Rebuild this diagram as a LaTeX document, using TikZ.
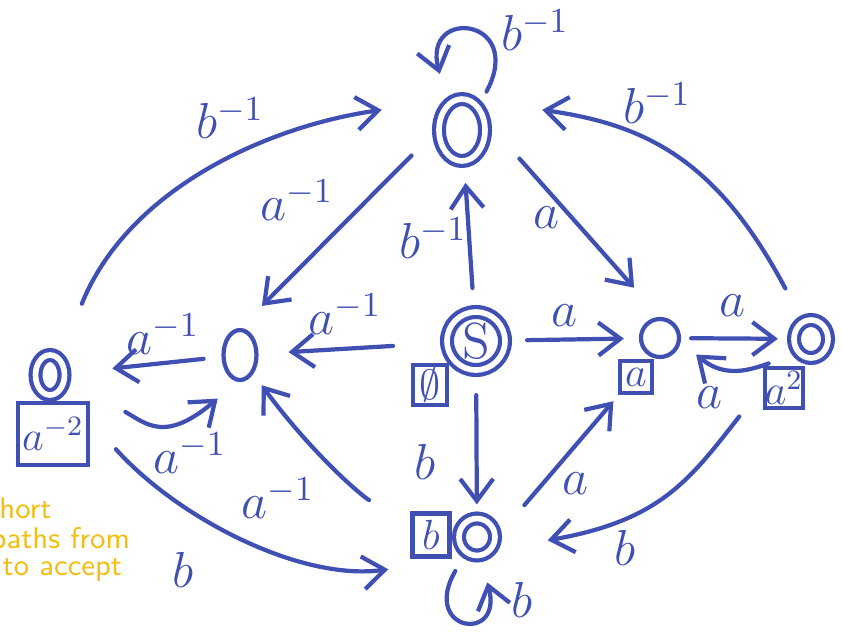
\documentclass[tikz,border=0pt]{standalone}
\usepackage{amsmath,amssymb}
\usepackage{tikz}
\usetikzlibrary{arrows.meta,shapes.geometric}
\definecolor{penblue}{RGB}{64,80,178}
\definecolor{penyellow}{RGB}{241,190,20}
\begin{document}
\begin{tikzpicture}[
  st/.style={draw=penblue, very thick, ellipse, inner sep=0pt},
  acc/.style={st, double=white, double distance=1.6pt},
  wbox/.style={draw=penblue, very thick, rectangle, text=penblue, inner sep=0pt, font=\large},
  tr/.style={draw=penblue, very thick, line cap=round, -{Straight Barb[length=2.2mm,width=3.3mm]}},
  lab/.style={text=penblue, font=\Large},
  note/.style={text=penyellow, inner sep=0pt, font=\sffamily\fontsize{8.5}{8.5}\selectfont, anchor=base west}]
  \useasboundingbox (0,0) rectangle (8.42,6.31);
  \clip (0,0) rectangle (8.42,6.31);
  \node[acc, minimum width=0.46cm, minimum height=0.62cm] (top) at (4.62,5.01) {};
  \node[st, minimum width=0.33cm, minimum height=0.50cm] (lm) at (2.40,2.76) {};
  \node[acc, minimum width=0.29cm, minimum height=0.40cm] (fl) at (0.50,2.56) {};
  \node[acc, circle, minimum size=0.58cm, text=penblue, font=\Large] (s) at (4.76,2.90) {S};
  \node[st, circle, minimum size=0.38cm] (rm) at (6.60,2.93) {};
  \node[acc, minimum width=0.34cm, minimum height=0.38cm] (fr) at (8.11,2.92) {};
  \node[acc, minimum width=0.36cm, minimum height=0.37cm] (bot) at (4.77,0.94) {};
  \node[wbox, minimum width=0.34cm, minimum height=0.40cm] (tagS) at (4.30,2.46) {$\emptyset$};
  \node[wbox, minimum size=0.32cm] (tagRm) at (6.36,2.54) {$a$};
  \node[wbox, minimum width=0.38cm, minimum height=0.40cm] (tagFr) at (7.84,2.43) {$a^2$};
  \node[wbox, minimum width=0.70cm, minimum height=0.62cm] (tagFl) at (0.53,1.97) {$a^{-2}$};
  \node[wbox, minimum width=0.37cm, minimum height=0.43cm] (tagBot) at (4.31,0.96) {$b$};
  \draw[tr, shorten <=0.22cm, shorten >=0.2cm] (s) -- (top);
  \draw[tr, shorten <=0.52cm, shorten >=0.30cm] (s) -- (lm);
  \draw[tr, shorten <=0.20cm, shorten >=0.15cm] (s) -- (rm);
  \draw[tr, shorten <=0.23cm, shorten >=0.12cm] (s) -- (bot);
  \draw[tr, shorten <=0.50cm, shorten >=0.39cm] (top.20) -- (rm.north);
  \draw[tr, shorten <=0.36cm, shorten >=0.31cm] (top.west) -- (lm.north);
  \draw[tr, shorten <=0.58cm, shorten >=0.70cm] (fl.60) to[out=68,in=188] (top.110);
  \draw[tr, shorten <=0.36cm, shorten >=0.70cm] (fr.115) to[out=118,in=-8,looseness=1.15] (top.70);
  \draw[tr, shorten <=0.18cm, shorten >=0.46cm] (lm) -- (fl);
  \draw[tr, shorten <=0.68cm, shorten >=0.26cm] (fl.-10) to[out=-30,in=220,looseness=1.4] (lm.265);
  \draw[tr, shorten <=0.98cm, shorten >=0.14cm] (bot.195) to[bend left=14] (lm.-55);
  \draw[tr, shorten <=0.80cm, shorten >=0.86cm] (fl.-50) to[out=-48,in=188] (bot.260);
  \draw[tr, shorten <=0.42cm, shorten >=0.58cm] (bot.east) -- (rm.245);
  \draw[tr, shorten <=0.88cm, shorten >=0.56cm] (fr.205) to[out=232,in=10,looseness=1.2] (bot.-40);
  \draw[tr, shorten <=0.10cm, shorten >=0.14cm] (rm) -- (fr);
  \draw[tr, shorten <=0.30cm, shorten >=0.20cm] (fr.225) to[out=200,in=-40,looseness=1.2] (rm.-10);
  \draw[tr, shorten <=0.16cm, shorten >=0.3cm] (top.55) .. controls +(62:1.0) and +(105:1.0) .. (top.118);
  \draw[tr, shorten <=0.2cm, shorten >=0.26cm] (bot.235) .. controls +(240:0.9) and +(285:0.9) .. (bot.-80);
  \node[lab] (lbTopLoop) at (5.35,6.01) {$b^{-1}$};
  \node[lab] (lbFlTop) at (2.30,5.13) {$b^{-1}$};
  \node[lab] (lbFrTop) at (6.57,5.28) {$b^{-1}$};
  \node[lab] (lbTopLm) at (2.97,4.31) {$a^{-1}$};
  \node[lab] (lbTopRm) at (5.47,4.13) {$a$};
  \node[lab] (lbSTop) at (4.33,3.93) {$b^{-1}$};
  \node[lab] (lbSLm) at (3.45,3.17) {$a^{-1}$};
  \node[lab] (lbSRm) at (5.65,3.15) {$a$};
  \node[lab] (lbRmFr) at (7.33,3.25) {$a$};
  \node[lab] (lbLmFl) at (1.63,2.97) {$a^{-1}$};
  \node[lab] (lbFlLm) at (1.90,1.78) {$a^{-1}$};
  \node[lab] (lbFrRm) at (7.10,2.33) {$a$};
  \node[lab] (lbSBot) at (4.25,1.69) {$b$};
  \node[lab] (lbBotLm) at (2.78,1.33) {$a^{-1}$};
  \node[lab] (lbBotRm) at (5.76,1.47) {$a$};
  \node[lab] (lbFlBot) at (1.83,0.61) {$b$};
  \node[lab] (lbFrBot) at (6.25,0.83) {$b$};
  \node[lab] (lbBotLoop) at (5.22,0.31) {$b$};
  \node[note] (noteA) at (-0.13,1.13) {short};
  \node[note] (noteB) at (-0.10,0.83) {paths from};
  \node[note] (noteC) at (0.02,0.56) {to accept};
\end{tikzpicture}
\end{document}
